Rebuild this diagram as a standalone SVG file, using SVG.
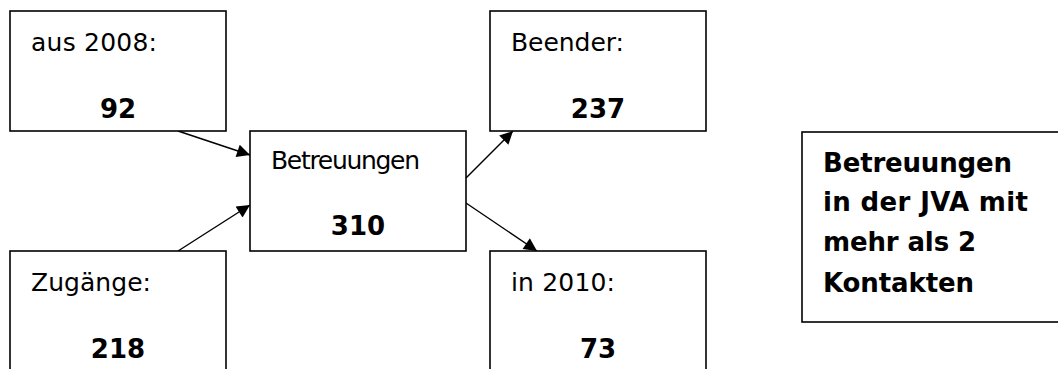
<svg xmlns="http://www.w3.org/2000/svg" width="1058" height="369" viewBox="0 0 1058 369">
<style>
.box{fill:#fff;stroke:#000;stroke-width:1.6}
.t{font-family:"DejaVu Sans",Verdana,sans-serif;font-size:25px;fill:#000}
.b{font-family:"DejaVu Sans",Verdana,sans-serif;font-size:26px;font-weight:bold;fill:#000}
.c{stroke:#000;stroke-width:1.4;fill:none}
</style>
<defs>
<marker id="ah" viewBox="0 0 10 10" refX="10" refY="5" markerWidth="16" markerHeight="13" markerUnits="userSpaceOnUse" orient="auto">
<path d="M0,0 L10,5 L0,10 Z" fill="#000"/>
</marker>
</defs>
<rect width="1058" height="369" fill="#fff"/>
<g id="connectors">
<line class="c" x1="178" y1="131" x2="250" y2="155" marker-end="url(#ah)"/>
<line class="c" x1="178" y1="251" x2="250" y2="205" marker-end="url(#ah)"/>
<line class="c" x1="466" y1="178" x2="513" y2="131" marker-end="url(#ah)"/>
<line class="c" x1="466" y1="203" x2="537" y2="251" marker-end="url(#ah)"/>
</g>
<g id="aus2008">
<rect class="box" x="10" y="11" width="216" height="120"/>
<text class="t" x="31" y="51" textLength="126">aus 2008:</text>
<text class="b" x="118" y="118" text-anchor="middle">92</text>
</g>
<g id="zugaenge">
<rect class="box" x="10" y="251" width="216" height="130"/>
<text class="t" x="31" y="291" textLength="120">Zugänge:</text>
<text class="b" x="118" y="358" text-anchor="middle">218</text>
</g>
<g id="betreuungen">
<rect class="box" x="250" y="131" width="216" height="120"/>
<text class="t" x="271" y="169" textLength="149">Betreuungen</text>
<text class="b" x="358" y="235" text-anchor="middle">310</text>
</g>
<g id="beender">
<rect class="box" x="490" y="11" width="216" height="120"/>
<text class="t" x="511" y="51" textLength="113">Beender:</text>
<text class="b" x="598" y="118" text-anchor="middle">237</text>
</g>
<g id="in2010">
<rect class="box" x="490" y="251" width="216" height="130"/>
<text class="t" x="511" y="291" textLength="104">in 2010:</text>
<text class="b" x="598" y="358" text-anchor="middle">73</text>
</g>
<g id="legend">
<rect class="box" x="802" y="132" width="270" height="190"/>
<text class="b" x="823" y="172" textLength="189">Betreuungen</text>
<text class="b" x="823" y="211" textLength="205">in der JVA mit</text>
<text class="b" x="823" y="251" textLength="153">mehr als 2</text>
<text class="b" x="823" y="292" textLength="151">Kontakten</text>
</g>
</svg>
